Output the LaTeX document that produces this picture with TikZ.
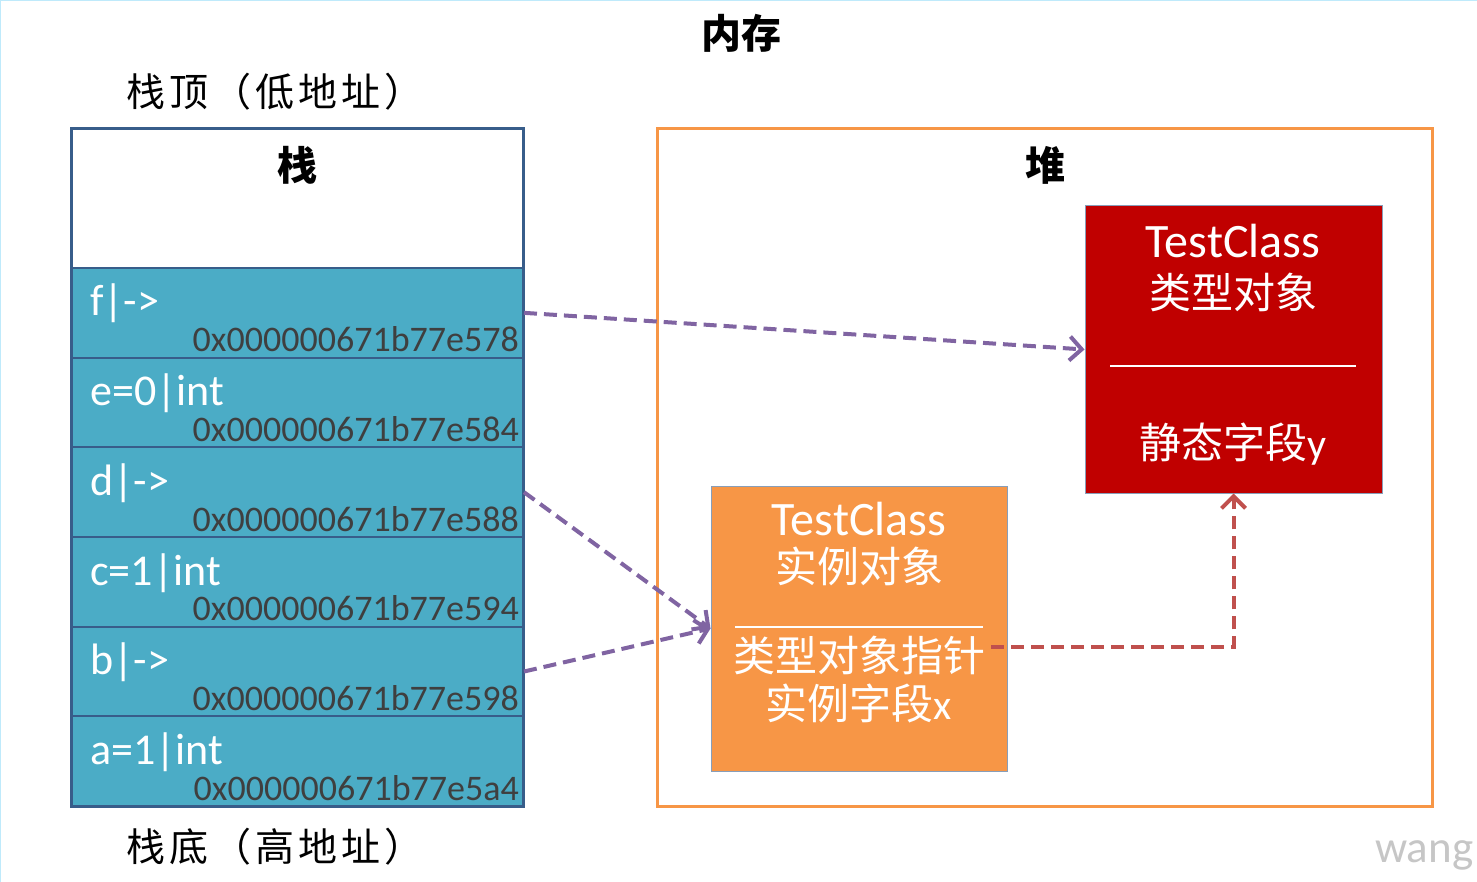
\documentclass[tikz,border=0pt]{standalone}
\usepackage{fontspec}
\setmainfont{Carlito}
\newfontfamily\cjk{Noto Sans CJK SC}
\newfontfamily\cjkwide{Noto Sans CJK SC}[LetterSpace=10]
\usetikzlibrary{arrows.meta, positioning}
\definecolor{stackblue}{HTML}{4BACC6}
\definecolor{stackline}{HTML}{385D8A}
\definecolor{heaporange}{HTML}{F79646}
\definecolor{typered}{HTML}{C00000}
\definecolor{ptrpurple}{HTML}{8064A2}
\definecolor{ptrred}{HTML}{C0504D}
\definecolor{addrgray}{HTML}{3F3F3F}
\tikzset{
  cell/.style = {draw=stackline, line width=2pt, fill=stackblue, minimum width=452pt, minimum height=89.67pt, inner sep=0pt},
  rowlab/.style = {text=white, inner sep=0pt, font=\fontsize{44}{48}\selectfont},
  addr/.style = {text=addrgray, inner sep=0pt, font=\fontsize{36}{40}\selectfont},
  heading/.style = {inner sep=0pt, font=\cjk\bfseries\fontsize{40}{44}\selectfont},
  sidelab/.style = {inner sep=0pt, font=\cjkwide\fontsize{39}{42}\selectfont},
  objbox/.style = {draw=stackline!60, line width=1pt, inner sep=0pt},
  boxtext/.style = {text=white, inner sep=0pt, font=\fontsize{48}{52}\selectfont},
  boxcn/.style = {text=white, inner sep=0pt, font=\cjk\fontsize{42}{46}\selectfont},
  ptrarrow/.style = {->, ptrpurple, line width=4pt, dash pattern=on 13pt off 7pt},
}

\begin{document}
\begin{tikzpicture}[x=1pt, y=-1pt, >={Straight Barb[length=12pt, width=24pt]}]
	\useasboundingbox (0,0) rectangle (1477,882);
	\fill[white] (0,0) rectangle (1477,882);
	\draw[cyan!25, line width=2pt] (0,882) -- (0,0) -- (1477,0);

	\node[heading] (memtitle) at (741,33) {内存};
	\node[sidelab] (stacktop) at (275,92) {栈顶（低地址）};
	\node[sidelab] (stackbottom) at (275,847) {栈底（高地址）};

	% stack
	\node[cell, fill=white, minimum height=139pt] (stackhead) at (297,198.5) {};
	\node[heading] (stacktitle) at (297,165) {栈};
	\foreach \n/\lab/\adr [count=\i] in {f/{f|->}/0x000000671b77e578, e/{e=0|int}/0x000000671b77e584, d/{d|->}/0x000000671b77e588, c/{c=1|int}/0x000000671b77e594, b/{b|->}/0x000000671b77e598, a/{a=1|int}/0x000000671b77e5a4}
	{
		\node[cell] (row\n) at (297, 268+89.67*\i-44.83) {};
		\node[rowlab, anchor=base west] (lab\n) at (90, 268+89.67*\i-41.67) {\lab};
		\node[addr, anchor=base east] (adr\n) at (519, 268+89.67*\i-6) {\adr};
	}
	\draw[stackline, line width=3pt] (71,129) rectangle (523,806);

	% heap
	\draw[heaporange, line width=3pt] (657,129) rectangle (1432,806);
	\node[heading] (heaptitle) at (1045,165) {堆};

	\node[objbox, fill=typered, minimum width=297pt, minimum height=287pt] (typeobj) at (1233.5,349.5) {};
	\node[boxtext] (typename) at (1233,241) {TestClass};
	\node[boxcn] (typecn) at (1233,292) {类型对象};
	\draw[white, line width=2pt] (1110,366) -- (1356,366);
	\node[boxcn] (statfield) at (1233,444) {静态字段{\normalfont y}};

	\node[objbox, fill=heaporange, minimum width=296pt, minimum height=285pt] (instobj) at (859,628.5) {};
	\node[boxtext] (instname) at (859,519) {TestClass};
	\node[boxcn] (instcn) at (859,566) {实例对象};
	\draw[white, line width=2pt] (735,627) -- (983,627);
	\node[boxcn] (ptr) at (859,655) {类型对象指针};
	\node[boxcn] (instfield) at (859,703) {实例字段{\normalfont x}};

	% references
	\draw[ptrarrow] (rowf.east) -- (typeobj.west);
	\draw[ptrarrow] (rowd.east) -- (instobj.west);
	\draw[ptrarrow] (rowb.east) -- (instobj.west);
	\draw[ptrarrow, ptrred] ([xshift=6pt, yshift=8pt]ptr.east) -| (typeobj.south);

	\node[inner sep=0pt, anchor=base west, text=gray!45, font=\fontsize{45}{48}\selectfont] (mark) at (1375,862) {wang};
\end{tikzpicture}
\end{document}
